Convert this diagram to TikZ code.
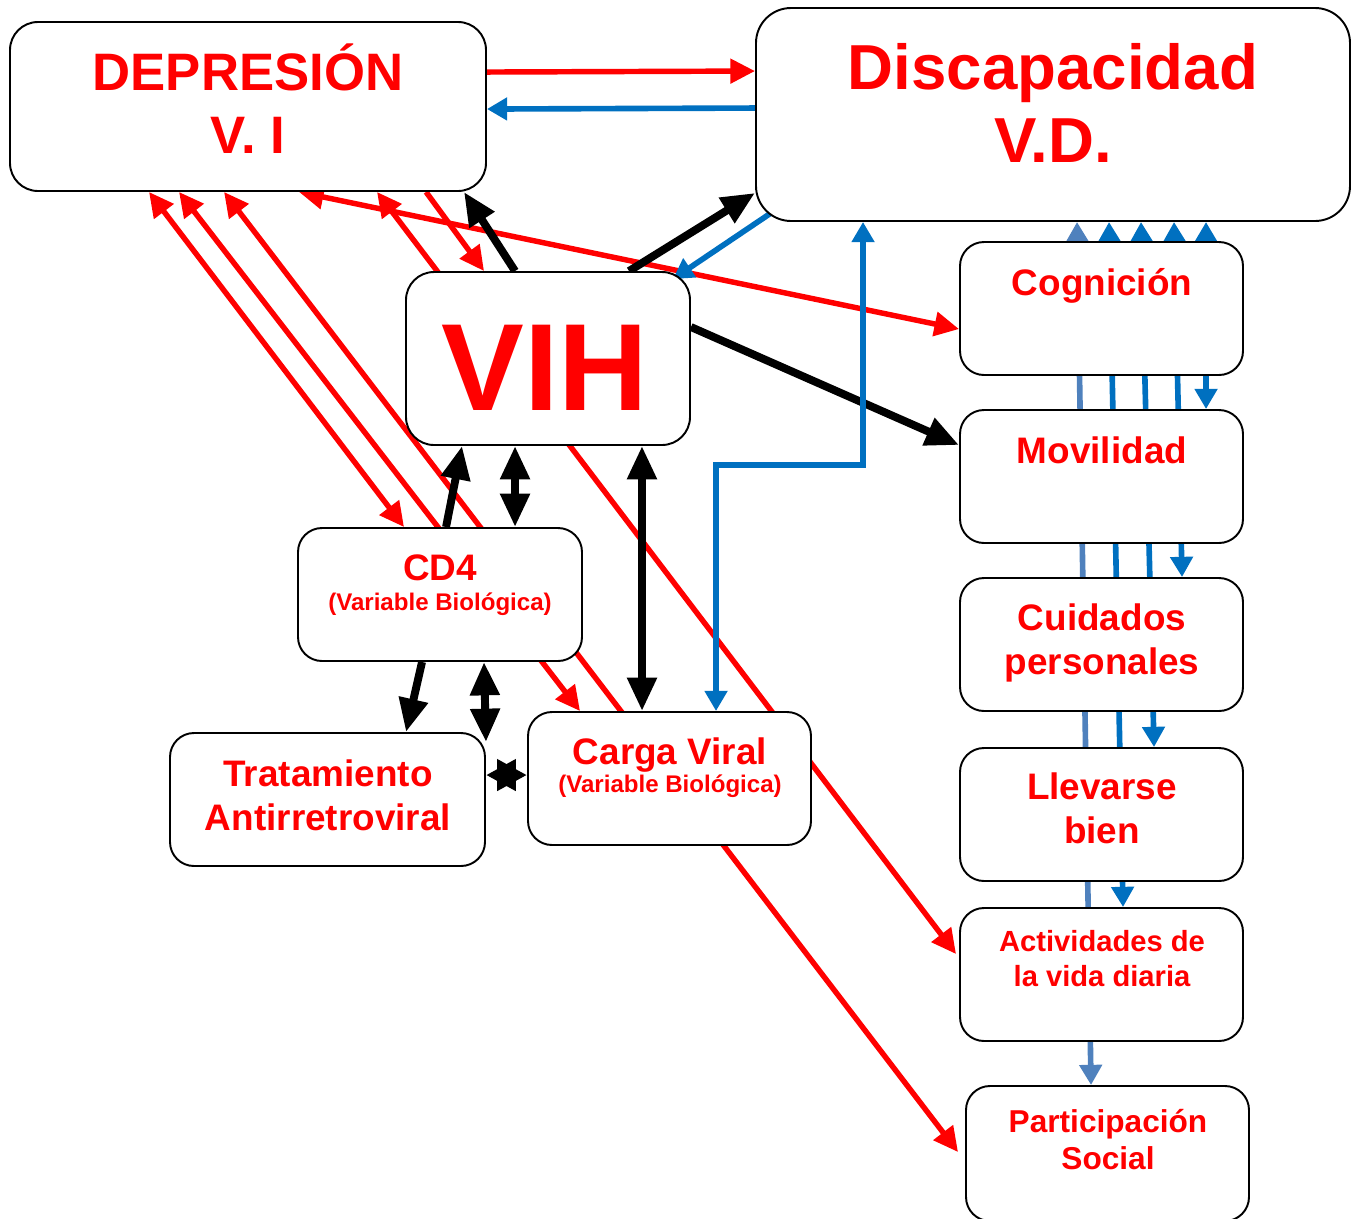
\documentclass[tikz,border=0pt]{standalone}
\usepackage{fontspec}
\setmainfont{Liberation Sans}
\usetikzlibrary{arrows.meta}
\usetikzlibrary{positioning}
\usetikzlibrary{fit}
\usetikzlibrary{calc}
\definecolor{vred}{RGB}{255,0,0}
\definecolor{vblue}{RGB}{0,112,192}
\definecolor{vsteel}{RGB}{79,129,189}
\pgfdeclarelayer{back}
\pgfsetlayers{back,main}

\begin{document}
\begin{tikzpicture}[x=0.02cm, y=-0.02cm,
    box/.style={draw, line width=1.1pt, fill=white, rounded corners=#1, inner sep=0pt},
    box/.default=4.8mm,
    lbl/.style={text=vred, align=center, anchor=base, inner sep=0pt},
    big/.style={lbl, font=\fontsize{21}{24.5}\selectfont\bfseries},
    redline/.style={draw=vred, line width=3.1pt, >={Triangle[length=14pt,width=13.5pt]}},
    blkline/.style={draw=black, line width=4.5pt, >={Triangle[length=19pt,width=16pt]}},
    blueline/.style={draw=vblue, line width=3.2pt, >={Triangle[length=11.5pt,width=12.5pt]}},
    steelline/.style={blueline, draw=vsteel}
  ]
  \useasboundingbox (0,0) rectangle (1353,1218);

  % boxes
  \node[box=5.6mm, fit={(10,22) (486,191)}] (dep) {};
  \node[box=7mm, fit={(756,8) (1350,221)}] (dis) {};
  \node[box=5.6mm, fit={(406,272) (690,445)}] (vih) {};
  \node[box, fit={(960,242) (1243,375)}] (cog) {};
  \node[box, fit={(960,410) (1243,543)}] (mov) {};
  \node[box, fit={(960,578) (1243,711)}] (cui) {};
  \node[box, fit={(960,748) (1243,881)}] (lle) {};
  \node[box, fit={(960,908) (1243,1041)}] (act) {};
  \node[box, fit={(966,1086) (1249,1221)}] (par) {};
  \node[box, fit={(298,528) (582,661)}] (cd4) {};
  \node[box, fit={(170,733) (485,866)}] (trat) {};
  \node[box, fit={(528,712) (811,845)}] (carga) {};

  % texts (base = last line)
  \node[lbl, font=\fontsize{30}{35.3}\selectfont\bfseries] (depT) at (248,153) {DEPRESIÓN\\V. I};
  \node[lbl, font=\fontsize{36.2}{41}\selectfont\bfseries] (disT) at (1053,162) {Discapacidad\\V.D.};
  \node[lbl, font=\fontsize{70.6}{80}\selectfont\bfseries] (vihT) at (545,410) {VIH};
  \node[big] (cogT) at (1102,295) {Cognición};
  \node[big] (movT) at (1102,463) {Movilidad};
  \node[big] (cuiT) at (1102,674) {Cuidados\\personales};
  \node[big] (lleT) at (1102,843) {Llevarse\\bien};
  \node[lbl, font=\fontsize{16.6}{19.5}\selectfont\bfseries] (actT) at (1102,986) {Actividades de\\la vida diaria};
  \node[lbl, font=\fontsize{18}{20.5}\selectfont\bfseries] (parT) at (1108,1169) {Participación\\Social};
  \node[lbl, font=\fontsize{13.7}{17}\selectfont\bfseries] (cd4T) at (440,610) {{\fontsize{21}{17}\selectfont CD4}\\(Variable Biológica)};
  \node[big] (tratT) at (328,830) {Tratamiento\\Antirretroviral};
  \node[lbl, font=\fontsize{13.7}{15.5}\selectfont\bfseries] (cargaT) at (670,792) {{\fontsize{21}{15.5}\selectfont Carga Viral}\\(Variable Biológica)};

  \begin{pgfonlayer}{back}
  % red links
  \draw[redline, ->] ($(dep.north east)+(0,51)$) -- ($(dis.north west)+(0,64)$);
  \draw[redline, <->] ($(dep.south west)+(290,0)$) -- ($(cog.north west)+(0,88)$);
  \draw[redline, <->] ($(dep.south west)+(368,0)$) -- ($(act.north west)+(-3,47)$);
  \draw[redline, ->] ($(dep.south west)+(417,0)$) -- ($(vih.north west)+(79,0)$);
  \draw[redline, <->] ($(dep.south west)+(140,0)$) -- ($(cd4.north west)+(107,0)$);
  \draw[redline, <->] ($(dep.south west)+(170,0)$) -- ($(carga.north west)+(53,0)$);
  \draw[redline, <->] ($(dep.south west)+(215,0)$) -- ($(par.north west)+(-7,67)$);

  % black links
  \draw[blkline, ->] ($(vih.north west)+(110,0)$) -- ($(dep.south east)+(-23,0)$);
  \draw[blkline, ->] ($(vih.north west)+(224,0)$) -- ($(dis.south west)+(0,-29)$);
  \draw[blkline, ->] ($(vih.north east)+(0,56)$) -- ($(mov.north west)+(0,36)$);
  \draw[blkline, ->] ($(cd4.north west)+(149,0)$) -- ($(vih.south west)+(57,0)$);
  \draw[blkline, <->] ($(vih.south west)+(110,0)$) -- ($(cd4.north west)+(218,0)$);
  \draw[blkline, <->] ($(vih.south east)+(-49,0)$) -- ($(carga.north west)+(115,0)$);
  \draw[blkline, ->] ($(cd4.south west)+(125,0)$) -- ($(trat.north west)+(237,0)$);
  \draw[blkline, <->] ($(cd4.south west)+(187,0)$) -- ($(trat.north east)+(0,10)$);
  \draw[blkline, <->, >={Triangle[length=17pt,width=17pt]}] ($(trat.north east)+(0,43)$) -- ($(carga.north west)+(0,64)$);

  % blue links
  \draw[blueline, ->] ($(dis.north west)+(0,101)$) -- ($(dep.north east)+(0,88)$);
  \draw[blueline, ->] ($(dis.south west)+(16,-9)$) -- ($(vih.north east)+(-18,8)$);
  \draw[blueline, <->] ($(carga.north west)+(189,0)$) -- ++(0,-246) -| ($(dis.south west)+(108,0)$);
  \draw[steelline, <->] ($(dis.south west)+(322,0)$) -- ($(par.north west)+(126,0)$);
  \foreach \tx/\tgt/\bx in {354/act/164, 386/lle/195, 419/cui/223, 451/mov/247}
    \draw[blueline, <->] ($(dis.south west)+(\tx,0)$) -- ($(\tgt.north west)+(\bx,0)$);
  \end{pgfonlayer}
\end{tikzpicture}
\end{document}
